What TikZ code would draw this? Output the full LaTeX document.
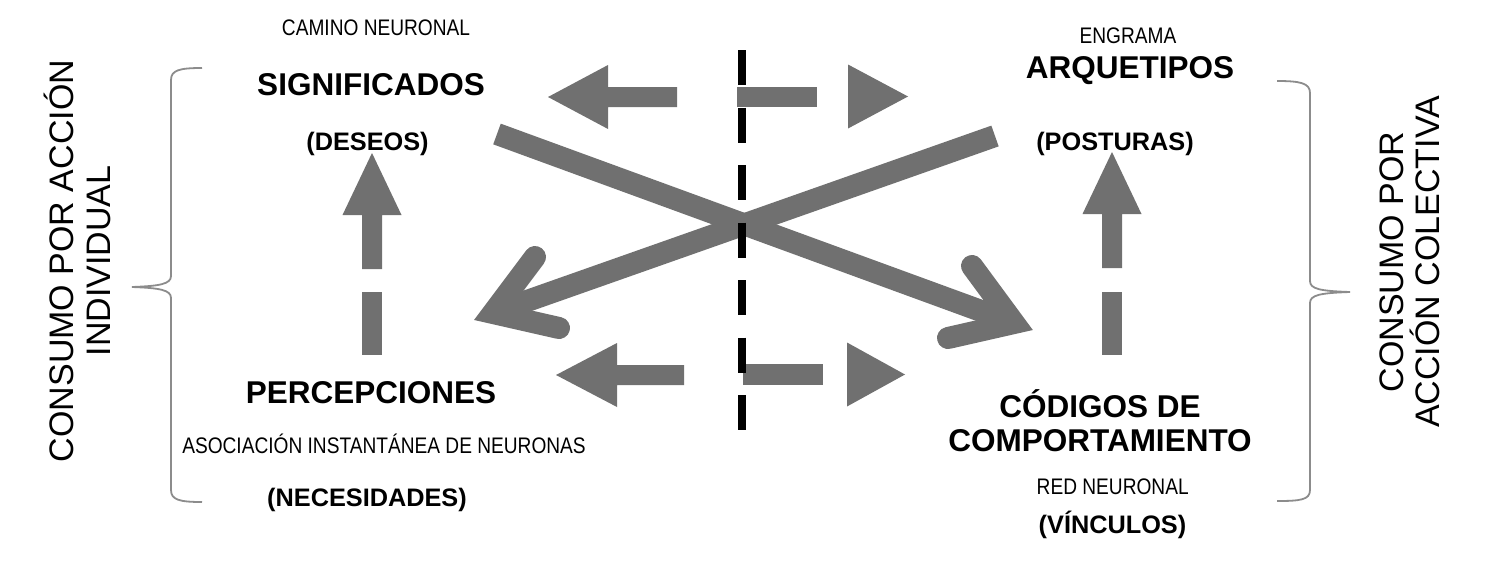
\documentclass[tikz,border=0pt]{standalone}
\usepackage{fontspec}
\setmainfont{Liberation Sans}
\newfontfamily\notefont[FakeStretch=0.85]{Liberation Sans}
\definecolor{agray}{HTML}{707070}
\definecolor{bgray}{HTML}{8C8C8C}
\begin{document}
\begin{tikzpicture}[x=1pt,y=-1pt,
  lbl/.style={inner sep=0pt, anchor=base, font=\fontsize{31.5}{34.5}\selectfont\bfseries},
  sub/.style={inner sep=0pt, anchor=base, font=\fontsize{25.3}{28}\selectfont\bfseries},
  note/.style={inner sep=0pt, anchor=base, font=\notefont\fontsize{22.5}{25}\selectfont},
  side/.style={inner sep=0pt, align=center, rotate=90, font=\fontsize{34}{37}\selectfont},
  brace/.style={draw=bgray, line width=1.8pt},
  fat/.style={draw=agray, line width=22pt},
  chev/.style={draw=agray, line width=22pt, line cap=round, line join=miter},
  blk/.style={fill=agray},
  divider/.style={draw=black, line width=7.5pt, dash pattern=on 35pt off 22.5pt}
]
\useasboundingbox (0,0) rectangle (1492,565);
\fill[white] (0,0) rectangle (1492,565);

% side labels
\node[side] (left) at (77,261) {CONSUMO POR ACCIÓN\\INDIVIDUAL};
\node[side, font=\fontsize{34}{36}\selectfont] (right) at (1410,262) {CONSUMO POR\\ACCIÓN COLECTIVA};

% braces
\draw[brace] (202,68) .. controls (180,68) and (171,70) .. (171,80) -- (171,276)
  .. controls (171,284) and (160,286) .. (132,287)
  .. controls (160,288) and (171,290) .. (171,298) -- (171,490)
  .. controls (171,500) and (180,502) .. (202,502);
\draw[brace] (1277,81) .. controls (1300,81) and (1310,83) .. (1310,93) -- (1310,281)
  .. controls (1310,289) and (1320,291) .. (1350,292)
  .. controls (1320,293) and (1310,295) .. (1310,303) -- (1310,490)
  .. controls (1310,500) and (1300,501) .. (1277,501);

% texts
\node[note] (camino) at (376,35) {CAMINO NEURONAL};
\node[lbl] (sig) at (371,95) {SIGNIFICADOS};
\node[sub] (deseos) at (367.5,150) {(DESEOS)};
\node[note] (engrama) at (1128,43.3) {ENGRAMA};
\node[lbl] (arq) at (1130,78) {ARQUETIPOS};
\node[sub] (posturas) at (1115,150) {(POSTURAS)};
\node[lbl] (perc) at (371,403) {PERCEPCIONES};
\node[note] (asoc) at (384,453) {ASOCIACIÓN INSTANTÁNEA DE NEURONAS};
\node[sub] (neces) at (367,506) {(NECESIDADES)};
\node[lbl, align=center] (cod) at (1100,451.5) {CÓDIGOS DE\\COMPORTAMIENTO};
\node[note] (red) at (1112.7,494) {RED NEURONAL};
\node[sub] (vinc) at (1112.5,533) {(VÍNCULOS)};

% vertical arrows
\fill[blk] (362,269) -- (362,215) -- (342.5,215) -- (372,153) -- (401.5,215) -- (382,215) -- (382,269) -- cycle;
\fill[blk] (362,292) rectangle (382,355);
\fill[blk] (1102,268) -- (1102,214) -- (1082.5,214) -- (1112,152) -- (1141.5,214) -- (1122,214) -- (1122,268) -- cycle;
\fill[blk] (1102,292) rectangle (1122,355);

% horizontal arrows
\fill[blk] (677,87) -- (608,87) -- (608,65) -- (548,97) -- (608,129) -- (608,107) -- (677,107) -- cycle;
\fill[blk] (737,86.5) rectangle (817,106.5);
\fill[blk] (848,64.5) -- (908,96.5) -- (848,128.5) -- cycle;
\fill[blk] (684,365) -- (617,365) -- (617,343) -- (556,375) -- (617,407) -- (617,385) -- (684,385) -- cycle;
\fill[blk] (743,364) rectangle (823,385);
\fill[blk] (847,342.5) -- (905,374.5) -- (847,406.5) -- cycle;

% crossing arrows
\coordinate (s1) at (497,134);
\coordinate (v2) at (1014,323);
\coordinate (b2a) at (972,266);
\coordinate (b2b) at (948,338);
\coordinate (s2) at (995,136);
\coordinate (v1) at (493,313);
\coordinate (b1a) at (535,257);
\coordinate (b1b) at (559,328);
\draw[fat] (s1) -- (v2);
\draw[chev] (b2a) -- (v2) -- (b2b);
\draw[fat] (s2) -- (v1);
\draw[chev] (b1a) -- (v1) -- (b1b);

% divider
\coordinate (dtop) at (742,50);
\coordinate (dbot) at (742,432);
\draw[divider] (dtop) -- (dbot);
\end{tikzpicture}
\end{document}
